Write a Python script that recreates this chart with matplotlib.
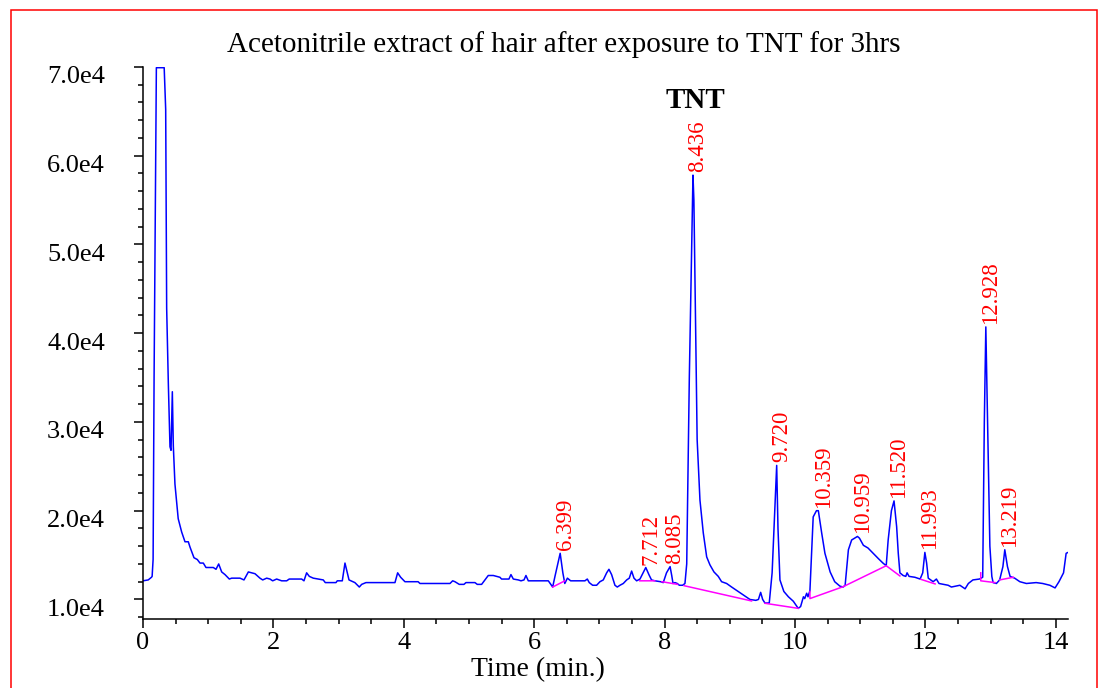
import numpy as np
import matplotlib
matplotlib.use("Agg")
import matplotlib.pyplot as plt
from matplotlib.patches import Rectangle
from matplotlib.ticker import MultipleLocator, FuncFormatter
from matplotlib.transforms import ScaledTranslation

plt.rcParams['font.family'] = ['Liberation Serif', 'DejaVu Serif']

# chromatogram trace: time (min), intensity (x1e4 counts)
time = [0.00, 0.08, 0.13, 0.14, 0.155, 0.17, 0.205, 0.21, 0.325, 0.348, 0.363, 0.389,
        0.414, 0.430, 0.450, 0.465, 0.490, 0.540, 0.593, 0.644, 0.695, 0.721, 0.782,
        0.833, 0.874, 0.925, 0.966, 1.078, 1.120, 1.161, 1.207, 1.258, 1.324, 1.360,
        1.488, 1.549, 1.616, 1.718, 1.794, 1.836, 1.897, 1.948, 1.989, 2.050, 2.127,
        2.204, 2.243, 2.434, 2.469, 2.510, 2.551, 2.612, 2.765, 2.796, 2.960, 2.980,
        3.057, 3.098, 3.124, 3.160, 3.250, 3.318, 3.354, 3.420, 3.865, 3.906, 3.952,
        4.018, 4.220, 4.248, 4.709, 4.750, 4.785, 4.851, 4.923, 4.954, 5.092, 5.127,
        5.194, 5.245, 5.296, 5.373, 5.475, 5.500, 5.613, 5.644, 5.680, 5.757, 5.798,
        5.844, 5.874, 5.910, 6.217, 6.284, 6.319, 6.399, 6.440, 6.470, 6.510, 6.560,
        6.779, 6.815, 6.845, 6.897, 6.958, 7.009, 7.060, 7.112, 7.147, 7.188, 7.239,
        7.275, 7.316, 7.367, 7.419, 7.459, 7.495, 7.531, 7.572, 7.623, 7.712, 7.760,
        7.800, 7.853, 7.940, 7.980, 8.030, 8.085, 8.110, 8.130, 8.160, 8.195, 8.227,
        8.277, 8.313, 8.340, 8.380, 8.436, 8.450, 8.500, 8.543, 8.594, 8.646, 8.696,
        8.758, 8.824, 8.875, 8.952, 9.029, 9.130, 9.233, 9.310, 9.400, 9.440, 9.474,
        9.505, 9.540, 9.606, 9.650, 9.720, 9.740, 9.770, 9.830, 9.900, 9.975, 10.050,
        10.087, 10.130, 10.150, 10.180, 10.200, 10.230, 10.280, 10.330, 10.359, 10.410,
        10.460, 10.540, 10.610, 10.690, 10.740, 10.770, 10.820, 10.870, 10.959, 10.990,
        11.050, 11.120, 11.200, 11.280, 11.350, 11.400, 11.430, 11.480, 11.520, 11.560,
        11.585, 11.610, 11.660, 11.700, 11.720, 11.750, 11.840, 11.920, 11.960, 11.993,
        12.020, 12.045, 12.120, 12.170, 12.210, 12.350, 12.400, 12.530, 12.570, 12.610,
        12.660, 12.730, 12.830, 12.880, 12.905, 12.928, 12.955, 12.990, 13.020, 13.040,
        13.090, 13.140, 13.190, 13.219, 13.260, 13.300, 13.370, 13.450, 13.550, 13.700,
        13.800, 13.910, 13.990, 14.050, 14.120, 14.160, 14.190]
intensity = [1.21, 1.22, 1.25, 1.26, 1.45, 3.50, 6.99, 6.99, 6.99, 6.52, 4.28, 3.42,
             2.72, 2.68, 3.34, 2.73, 2.30, 1.91, 1.76, 1.65, 1.65, 1.59, 1.47,
             1.45, 1.41, 1.41, 1.36, 1.36, 1.34, 1.40, 1.31, 1.28, 1.23, 1.24,
             1.24, 1.22, 1.31, 1.29, 1.24, 1.22, 1.24, 1.23, 1.21, 1.23, 1.21,
             1.21, 1.23, 1.23, 1.21, 1.30, 1.26, 1.24, 1.22, 1.19, 1.19, 1.21,
             1.21, 1.41, 1.33, 1.22, 1.19, 1.14, 1.17, 1.19, 1.19, 1.30, 1.25,
             1.20, 1.20, 1.18, 1.18, 1.21, 1.20, 1.17, 1.17, 1.19, 1.19, 1.17,
             1.17, 1.22, 1.27, 1.27, 1.25, 1.23, 1.23, 1.28, 1.23, 1.22, 1.21,
             1.22, 1.27, 1.21, 1.21, 1.14, 1.26, 1.52, 1.30, 1.18, 1.24, 1.21,
             1.21, 1.23, 1.19, 1.16, 1.16, 1.20, 1.22, 1.30, 1.34, 1.28, 1.16,
             1.14, 1.16, 1.18, 1.22, 1.24, 1.32, 1.24, 1.21, 1.23, 1.36, 1.28,
             1.22, 1.21, 1.20, 1.19, 1.30, 1.37, 1.27, 1.18, 1.19, 1.18, 1.16,
             1.16, 1.18, 1.40, 3.50, 5.78, 5.50, 2.80, 2.12, 1.75, 1.48, 1.39,
             1.31, 1.26, 1.20, 1.18, 1.14, 1.09, 1.04, 1.00, 0.99, 1.00, 1.08,
             1.00, 0.96, 0.96, 1.30, 2.51, 1.80, 1.22, 1.09, 1.03, 0.98, 0.90,
             0.92, 1.03, 1.01, 1.07, 1.03, 1.10, 1.93, 2.00, 2.00, 1.75,
             1.52, 1.31, 1.20, 1.15, 1.14, 1.16, 1.56, 1.67, 1.71, 1.69,
             1.61, 1.58, 1.52, 1.46, 1.41, 1.38, 1.67, 2.00, 2.11, 1.82,
             1.52, 1.30, 1.27, 1.26, 1.30, 1.26, 1.25, 1.23, 1.30, 1.53,
             1.41, 1.24, 1.20, 1.23, 1.18, 1.16, 1.14, 1.16, 1.14, 1.12,
             1.18, 1.22, 1.23, 1.25, 3.00, 4.07, 3.00, 1.60, 1.26, 1.19,
             1.18, 1.22, 1.37, 1.56, 1.37, 1.26, 1.24, 1.20, 1.18, 1.19,
             1.18, 1.16, 1.13, 1.20, 1.30, 1.52, 1.53]

# integration baselines (time, intensity x1e4), NaN separates segments
base_t = [6.284, 6.47, np.nan, 7.62, 7.85, np.nan, 7.96, 8.20, np.nan, 8.30, 9.335, np.nan,
          9.54, 10.05, np.nan, 10.23, 10.23, 10.74, 11.40, 11.61, np.nan, 11.93, 12.15, np.nan,
          12.85, 12.85, 13.07, np.nan, 13.14, 13.35]
base_i = [1.14, 1.21, np.nan, 1.21, 1.21, np.nan, 1.20, 1.17, np.nan, 1.155, 0.983, np.nan,
          0.957, 0.90, np.nan, 1.09, 1.01, 1.144, 1.38, 1.265, np.nan, 1.227, 1.175, np.nan,
          1.30, 1.21, 1.19, np.nan, 1.22, 1.25]

peak_times = [6.399, 7.712, 8.085, 8.436, 9.720, 10.359, 10.959, 11.520, 11.993, 12.928, 13.219]
peak_labels = ["6.399", "7.712", "8.085", "8.436", "9.720", "10.359", "10.959",
               "11.520", "11.993", "12.928", "13.219"]

t = np.array(time)
y = np.array(intensity) * 1e4

fig = plt.figure(figsize=(11, 6.88), dpi=100)
ax = fig.add_axes([0.13, 0.1003, 0.841, 0.8026])

ax.plot(t, y, color='#0000FF', lw=1.1)
ax.plot(base_t, np.array(base_i) * 1e4, color='#FF00FF', lw=1.1)

for pt, lab in zip(peak_times, peak_labels):
    h = np.interp(pt, t, y)
    ax.annotate(lab, (pt, h), xytext=(5, 3), textcoords='offset pixels',
                rotation=90, ha='center', va='bottom', color='red', fontsize=16.5)

ax.text(8.48, 6.62e4, "TNT", ha='center', va='center', fontsize=21, fontweight='bold')

ax.set_xlim(0, 14.19)
ax.set_ylim(0.78e4, 7.0e4)
ax.xaxis.set_major_locator(MultipleLocator(2))
ax.xaxis.set_minor_locator(MultipleLocator(0.5))
ax.yaxis.set_major_locator(MultipleLocator(1e4))
ax.yaxis.set_minor_locator(MultipleLocator(0.2e4))
ax.yaxis.set_major_formatter(FuncFormatter(lambda v, p: "%.1fe4" % (v / 1e4)))
ax.xaxis.set_major_formatter(FuncFormatter(lambda v, p: "%d" % v))

for s in ['top', 'right']:
    ax.spines[s].set_visible(False)
for s in ['left', 'bottom']:
    ax.spines[s].set_linewidth(1.1)

ax.tick_params(axis='both', which='major', length=6.5, width=1.1, labelsize=19)
ax.tick_params(axis='both', which='minor', length=3.6, width=1.1)
ax.tick_params(axis='y', which='major', pad=21)
ax.tick_params(axis='x', which='major', pad=3)

off = ScaledTranslation(0, -0.08, fig.dpi_scale_trans)
for lab in ax.get_yticklabels():
    lab.set_transform(lab.get_transform() + off)

fig.text(563.5 / 1100, 1 - 45 / 688, "Acetonitrile extract of hair after exposure to TNT for 3hrs",
         ha='center', va='center', fontsize=21)
fig.text(538 / 1100, 1 - 670 / 688, "Time (min.)", ha='center', va='center', fontsize=20)

fig.patches.append(Rectangle((11 / 1100, -0.1), (1097 - 11) / 1100, 1.1 - 10 / 688,
                             transform=fig.transFigure, fill=False, edgecolor='red', lw=1.1))

fig.savefig("out.png", dpi=100)
